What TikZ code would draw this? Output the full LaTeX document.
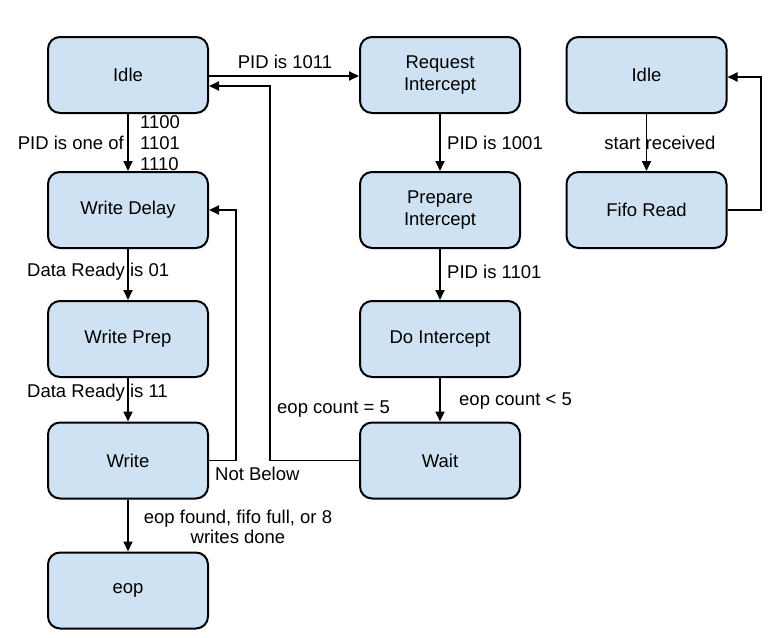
\documentclass[tikz,border=0pt]{standalone}
\usepackage{fontspec}
\setmainfont{Liberation Sans}
\usetikzlibrary{arrows.meta}
\definecolor{boxblue}{HTML}{CFE2F3}
\begin{document}
\begin{tikzpicture}[x=1pt,y=-1pt,
  font=\fontsize{18.5}{21.5}\selectfont,
  state/.style={draw=black, line width=2pt, fill=boxblue, rounded corners=12pt,
    minimum width=160pt, minimum height=76pt, align=center, inner sep=2pt},
  arr/.style={line width=1.8pt, -{Triangle[length=10pt,width=9pt]}},
  lbl/.style={inner sep=0pt, align=center}]
\useasboundingbox (0,0) rectangle (768,637);
% left column
\node[state] (idle) at (128,75) {Idle};
\node[state] (wdelay) at (128,210) {Write Delay};
\node[state] (wprep) at (128,339) {Write Prep};
\node[state] (write) at (128,460.5) {Write};
\node[state] (eop) at (128,590.5) {eop};
% middle column
\node[state] (req) at (440,75) {Request\\Intercept};
\node[state] (prep) at (440,210) {Prepare\\Intercept};
\node[state] (doint) at (440,339) {Do Intercept};
\node[state] (wait) at (440,460.5) {Wait};
% right column
\node[state] (idleb) at (646.5,75) {Idle};
\node[state] (fifo) at (646.5,210) {Fifo Read};
% connectors
\draw[arr] ([yshift=-1pt]idle.east) -- ([yshift=-1pt]req.west);
\draw[arr] (idle) -- (wdelay);
\draw[arr] (wdelay) -- (wprep);
\draw[arr] (wprep) -- (write);
\draw[arr] (write) -- (eop);
\draw[arr] (req) -- (prep);
\draw[arr] (prep) -- (doint);
\draw[arr] (doint) -- (wait);
\draw[arr] (idleb) -- (fifo);
\coordinate (wb) at (236,460.5);
\draw[arr] (write.east) -- (wb) |- (wdelay.east);
\coordinate (wtb) at (270,460.5);
\draw[arr] (wait.west) -- (wtb) |- ([yshift=-11pt]idle.east);
\coordinate (fb) at (761,210);
\draw[arr] (fifo.east) -- (fb) |- ([yshift=-2pt]idleb.east);
% labels
\node[lbl] (l1011) at (285,62) {PID is 1011};
\node[lbl, anchor=east] (lone) at (124,143) {PID is one of};
\node[lbl, anchor=west] (l1100) at (140,122) {1100};
\node[lbl, anchor=west] (l1101) at (140,143) {1101};
\node[lbl, anchor=west] (l1110) at (140,164) {1110};
\node[lbl, anchor=west] (ldr01) at (27,272) {Data Ready is 01};
\node[lbl, anchor=west] (ldr11) at (27,393) {Data Ready is 11};
\node[lbl, anchor=west] (l1001) at (447,143) {PID is 1001};
\node[lbl, anchor=west] (l1101b) at (447,272) {PID is 1101};
\node[lbl, anchor=west] (llt5) at (459,401) {eop count < 5};
\node[lbl, anchor=west] (leq5) at (277,409) {eop count = 5};
\node[lbl, anchor=west] (lnb) at (215,474) {Not Below};
\node[lbl, font=\fontsize{18.5}{20}\selectfont] (leop) at (238,527) {eop found, fifo full, or 8\\writes done};
\node[lbl] (lstart) at (660,143) {start received};
\end{tikzpicture}
\end{document}
